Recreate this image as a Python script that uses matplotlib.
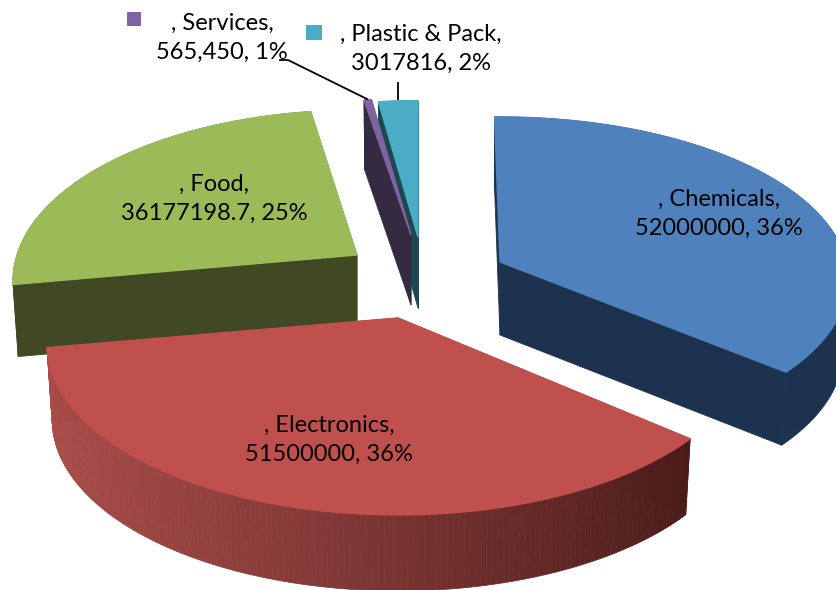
import numpy as np
import matplotlib
matplotlib.use("Agg")
import matplotlib.pyplot as plt
from matplotlib.patches import Polygon, Rectangle

categories = ["Chemicals", "Electronics", "Food", "Services", "Plastic & Pack"]
values = [52000000, 51500000, 36177198.7, 565450, 3017816]
value_labels = ["52000000", "51500000", "36177198.7", "565,450", "3017816"]
percents = ["36%", "36%", "25%", "1%", "2%"]
top_colors = ["#4F81BD", "#C0504D", "#9BBB59", "#8064A2", "#4BACC6"]
side_colors = ["#1D324E", "#4F1D1B", "#404923", "#342A42", "#1E4850"]

# layout: wedge apex after explosion, projection of each wedge, label centre, draw order
apex = [(500, 262), (398, 318), (357, 255), (411, 235), (418, 237)]
radius_x = [346, 347, 340, 345, 345]
radius_y = [160.7, 167, 167, 157, 157]
persp = [0.108, 0.152, 0.152, 0.152, 0.152]
depth = [73, 76, 72, 70, 71]
nudge = [-1, 0, 0, 0, 0]
label_pos = [(719, 214), (329, 440), (214, 199), (222, 38), (421, 49)]
draw_order = [4, 3, 0, 2, 1]
SHRINK = 0.985

plt.rcParams["font.family"] = ["Lato", "DejaVu Sans"]
fig = plt.figure(figsize=(8.36, 5.9), dpi=100)
ax = fig.add_axes([0, 0, 1, 1])
ax.set_xlim(0, 836)
ax.set_ylim(590, 0)
ax.axis("off")


def project(theta, i):
    X, Y = np.sin(np.radians(theta)), np.cos(np.radians(theta))
    f = 1 + persp[i] * Y
    c = apex[i]
    return np.column_stack([c[0] + radius_x[i] * X / f, c[1] - radius_y[i] * Y / f])


def lower(pts, i):
    out = np.array(pts, dtype=float)
    out[:, 0] = apex[i][0] + SHRINK * (out[:, 0] - apex[i][0])
    out[:, 1] += depth[i]
    return out


sweeps = np.array(values) / np.sum(values) * 360
starts = np.concatenate([[0], np.cumsum(sweeps)[:-1]]) + np.array(nudge)

for i in draw_order:
    th = np.linspace(starts[i], starts[i] + sweeps[i], 160)
    arc = project(th, i)
    low = lower(arc, i)
    ctr = np.array([apex[i]], dtype=float)
    ctr_low = lower(ctr, i)
    side = dict(closed=True, fc=side_colors[i], ec=side_colors[i], lw=0.6, zorder=1)
    for end in (arc[0], arc[-1]):
        e = np.array([end])
        ax.add_patch(Polygon(np.vstack([ctr, e, lower(e, i), ctr_low]), **side))
    if categories[i] == "Electronics":
        rgb0 = np.array(matplotlib.colors.to_rgb("#A84C49"))
        rgb1 = np.array(matplotlib.colors.to_rgb("#4A1C1A"))
        n = len(th) - 1
        for k in range(n):
            t = (arc[k, 0] - arc[:, 0].max()) / (arc[:, 0].min() - arc[:, 0].max())
            col = rgb1 + (rgb0 - rgb1) * np.clip(t, 0, 1) ** 0.9
            quad = np.vstack([arc[k:k + 2], low[k:k + 2][::-1]])
            ax.add_patch(Polygon(quad, closed=True, fc=col, ec=col, lw=0.5, zorder=1))
    else:
        ax.add_patch(Polygon(np.vstack([arc, low[::-1]]), **side))
    ax.add_patch(Polygon(np.vstack([ctr, arc]), closed=True, fc=top_colors[i],
                         ec=top_colors[i], lw=1.0, zorder=1))

for i in range(len(categories)):
    ax.text(*label_pos[i], f", {categories[i]},\n{value_labels[i]}, {percents[i]}",
            ha="center", va="center", fontsize=17, color="black",
            linespacing=1.45, zorder=5)

# legend keys beside the outer labels
ax.add_patch(Rectangle((127, 12), 14, 14, fc=top_colors[3], lw=0, zorder=5))
ax.add_patch(Rectangle((306, 25), 16, 15, fc=top_colors[4], lw=0, zorder=5))

# leader lines
ax.plot([280, 288, 367], [60, 60, 99], color="black", lw=1.3, zorder=4)
ax.plot([398, 398], [83, 99], color="black", lw=1.3, zorder=4)

fig.savefig("out.png", dpi=100)
